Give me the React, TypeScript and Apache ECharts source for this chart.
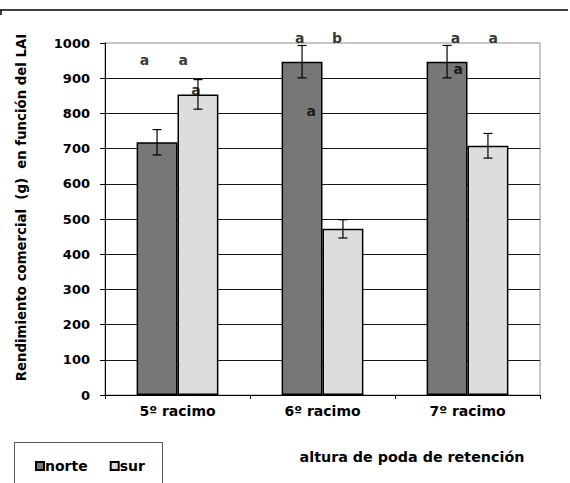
import React, { useEffect, useRef } from "react";
import * as echarts from "echarts";

const categories = ["5º racimo", "6º racimo", "7º racimo"];
const norteValues = [718, 947, 947];
const surValues = [854, 472, 708];
const norteErr = [36, 46, 46];
const surErr = [42, 26, 35];
// letters: [x position in category units (0..3), value, letter]
const letterMarks: [number, number, string][] = [
  [0.275, 949, "a"],
  [0.543, 949, "a"],
  [0.63, 866, "a"],
  [1.347, 1014, "a"],
  [1.604, 1014, "b"],
  [1.425, 804, "a"],
  [2.42, 1014, "a"],
  [2.68, 1014, "a"],
  [2.44, 926, "a"],
];

const FONT = "DejaVu Sans";
const CAT_GAP = 0.436;

export default function App() {
  const ref = useRef<HTMLDivElement>(null);
  useEffect(() => {
    const chart = echarts.init(ref.current!, null, { renderer: "svg" });
    const errSeries = (vals: number[], errs: number[], side: number) => ({
      type: "custom",
      xAxisIndex: 0,
      yAxisIndex: 0,
      z: 5,
      silent: true,
      data: vals.map((v, i) => [i, v, errs[i]]),
      renderItem: (params: any, api: any) => {
        const idx = api.value(0);
        const v = api.value(1);
        const e = api.value(2);
        const band = api.size([1, 0])[0];
        const bw = (band * (1 - CAT_GAP)) / 2;
        const c = api.coord([idx, v]);
        const x = c[0] + (side * bw) / 2;
        const top = api.coord([idx, v + e])[1];
        const bot = api.coord([idx, v - e])[1];
        const cap = 4.5;
        const style = { stroke: "#000", lineWidth: 1.2 };
        return {
          type: "group",
          children: [
            { type: "line", shape: { x1: x, y1: top, x2: x, y2: bot }, style },
            { type: "line", shape: { x1: x - cap, y1: top, x2: x + cap, y2: top }, style },
            { type: "line", shape: { x1: x - cap, y1: bot, x2: x + cap, y2: bot }, style },
          ],
        };
      },
    });
    chart.setOption({
      animation: false,
      textStyle: { fontFamily: FONT },
      grid: { left: 105, top: 43, right: 30, bottom: 88, show: true, borderColor: "#8c8c8c", borderWidth: 1 },
      legend: {
        left: 30,
        top: 454,
        icon: "rect",
        itemWidth: 8,
        itemHeight: 8,
        itemGap: 22,
        data: ["norte", "sur"],
        textStyle: { fontFamily: FONT, fontWeight: "bold", fontSize: 14, color: "#000", padding: [0, 0, 0, -4] },
      },
      xAxis: [
        {
          type: "category",
          data: categories,
          name: "altura de poda de retención",
          nameLocation: "middle",
          nameGap: 55,
          nameTextStyle: { fontFamily: FONT, fontWeight: "bold", fontSize: 14.3, color: "#000", padding: [0, 0, 0, 179] },
          axisLine: { lineStyle: { color: "#000", width: 1 } },
          axisTick: { show: true, length: 4, lineStyle: { color: "#000" } },
          axisLabel: { fontFamily: FONT, fontWeight: "bold", fontSize: 14, color: "#000", margin: 9 },
          splitLine: { show: false },
        },
        { type: "value", min: 0, max: 3, show: false },
      ],
      yAxis: {
        type: "value",
        min: 0,
        max: 1000,
        interval: 100,
        axisLine: { show: true, lineStyle: { color: "#000", width: 1 } },
        axisTick: { show: true, length: 5, lineStyle: { color: "#000" } },
        axisLabel: {
          fontFamily: FONT,
          fontWeight: "bold",
          fontSize: 13,
          color: "#000",
          margin: 15,
          formatter: (v: number) => String(v),
        },
        splitLine: { show: true, showMaxLine: false, lineStyle: { color: "#1a1a1a", width: 1 } },
      },
      series: [
        {
          name: "norte",
          type: "bar",
          data: norteValues,
          barGap: "0%",
          barCategoryGap: (CAT_GAP * 100).toFixed(1) + "%",
          itemStyle: { color: "#777777", borderColor: "#000", borderWidth: 1.5 },
        },
        {
          name: "sur",
          type: "bar",
          data: surValues,
          itemStyle: { color: "#dddddd", borderColor: "#000", borderWidth: 1.5 },
        },
        errSeries(norteValues, norteErr, -1),
        errSeries(surValues, surErr, 1),
        {
          type: "scatter",
          xAxisIndex: 1,
          yAxisIndex: 0,
          z: 10,
          symbolSize: 1,
          clip: false,
          silent: true,
          itemStyle: { color: "rgba(0,0,0,0)" },
          data: letterMarks.map((m) => [m[0], m[1], m[2]]),
          label: {
            show: true,
            position: [0, 0],
            align: "center",
            verticalAlign: "middle",
            formatter: (p: any) => p.value[2],
            fontFamily: FONT,
            fontWeight: "bold",
            fontSize: 14,
            color: "#000",
            textBorderWidth: 0,
          },
        },
      ],
      graphic: [
        { type: "line", shape: { x1: 0, y1: 10, x2: 568, y2: 10 }, style: { stroke: "#000", lineWidth: 1.5 } },
        { type: "line", shape: { x1: 1, y1: 10, x2: 1, y2: 15 }, style: { stroke: "#000", lineWidth: 1.5 } },
        { type: "rect", shape: { x: 14.5, y: 442.5, width: 148, height: 50 }, style: { fill: "none", stroke: "#555", lineWidth: 1 } },
        {
          type: "text",
          x: 21,
          y: 207.5,
          rotation: Math.PI / 2,
          style: {
            text: "Rendimiento comercial  (g)  en función del LAI",
            font: "bold 13.3px 'DejaVu Sans'",
            fill: "#000",
            align: "center",
            verticalAlign: "middle",
          },
        },
      ],
    });
    return () => chart.dispose();
  }, []);
  return <div ref={ref} style={{ position: "fixed", left: 0, top: 0, width: 570, height: 483, background: "#fff" }} />;
}
